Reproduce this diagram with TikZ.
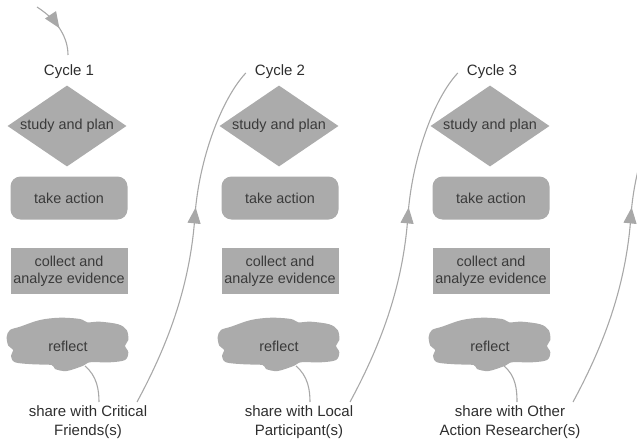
\documentclass[tikz,border=0pt]{standalone}
\usepackage{fontspec}
\setmainfont{Liberation Sans}
\usetikzlibrary{shapes.geometric,arrows.meta,decorations.markings,calc}
\definecolor{shapegray}{HTML}{ABABAB}
\definecolor{linegray}{HTML}{A8A8A8}
\definecolor{intext}{HTML}{3A3A3A}
\definecolor{labtext}{HTML}{2E2E2E}
\newcommand{\blobpath}{plot[smooth cycle, tension=0.55] coordinates {
 (-58,-16) (-48,-19.3) (-28,-26) (-8,-28.3) (12,-27) (19.3,-23.7) (32,-24.3) (50.3,-21.7)
 (58.7,-16) (60.3,-6) (57,-0.3) (60.3,6.3) (57,14) (42,16.3) (22,16.3) (15.3,19.7)
 (-1.3,25) (-13,23) (-16.3,19) (-34.7,18.3) (-53,16.3) (-57,9.7) (-54.7,4) (-59.7,-0.3) (-61.3,-9.3)}}
\begin{document}
\begin{tikzpicture}[x=1pt,y=-1pt,
  shapebase/.style={fill=shapegray, text=intext, font=\fontsize{14.4}{17}\selectfont, align=center, inner sep=0pt},
  plan/.style={shapebase, diamond, aspect=1.5, minimum width=119pt, minimum height=81pt},
  act/.style={shapebase, rectangle, rounded corners=10pt, minimum width=117pt, minimum height=43pt},
  collect/.style={shapebase, rectangle, minimum width=117pt, minimum height=46pt},
  refl/.style={shapebase, fill=none, rectangle, minimum width=120pt, minimum height=50pt},
  blob/.style={fill=shapegray},
  cyc/.style={text=labtext, font=\fontsize{15}{19}\selectfont, inner sep=0pt},
  share/.style={cyc, align=center},
  link/.style={color=linegray, line width=1.1pt},
  flow/.style={link, postaction={decorate}, decoration={markings, mark=at position #1 with {\arrow{Triangle[length=16pt,width=13pt]}}}},
]
\useasboundingbox (0,0) rectangle (637,444);
\clip (0,0) rectangle (637,444);

% cloud backgrounds
\fill[blob, shift={(68,346)}] \blobpath;
\fill[blob, shift={(279,346)}] \blobpath;
\fill[blob, shift={(490,346)}] \blobpath;

% column 1
\node[cyc] (c1) at (69,72) {Cycle 1};
\node[plan] (p1) at (67,126) {study and plan};
\node[act] (a1) at (69,198) {take action};
\node[collect] (e1) at (69,271) {collect and\\analyze evidence};
\node[refl] (r1) at (68,346) {reflect};
\node[share] (s1) at (88,422) {share with Critical\\Friends(s)};

% column 2
\node[cyc] (c2) at (280,72) {Cycle 2};
\node[plan] (p2) at (279,126) {study and plan};
\node[act] (a2) at (280,198) {take action};
\node[collect] (e2) at (280,271) {collect and\\analyze evidence};
\node[refl] (r2) at (279,346) {reflect};
\node[share] (s2) at (299,422) {share with Local\\Participant(s)};

% column 3
\node[cyc] (c3) at (492,72) {Cycle 3};
\node[plan] (p3) at (490,126) {study and plan};
\node[act] (a3) at (491,198) {take action};
\node[collect] (e3) at (491,271) {collect and\\analyze evidence};
\node[refl] (r3) at (490,346) {reflect};
\node[share] (s3) at (510,422) {share with Other\\Action Researcher(s)};

\coordinate (start) at (37,7);

% entry arrow
\draw[flow=0.52] (start) .. controls +(22,14) and +(0,-16) .. ($(c1.center)+(-1,-17)$);

% reflect -> share
\draw[link] ($(r1.center)+(17,20)$) .. controls +(12,10) and +(0,-12) .. ($(s1.center)+(11,-20)$);
\draw[link] ($(r2.center)+(17,20)$) .. controls +(12,10) and +(0,-12) .. ($(s2.center)+(11,-20)$);
\draw[link] ($(r3.center)+(14,20)$) .. controls +(12,10) and +(0,-12) .. ($(s3.center)+(7,-20)$);

% share -> next cycle
\coordinate (b1) at ($(s1.center)+(49,-20)$);
\coordinate (m1) at ($(b1)+(58,-187)$);
\coordinate (t1) at ($(c2.west)+(-9,1)$);
\coordinate (b2) at ($(s2.center)+(51,-20)$);
\coordinate (m2) at ($(b2)+(58,-187)$);
\coordinate (t2) at ($(c3.west)+(-9,1)$);
\coordinate (b3) at ($(s3.center)+(63,-20)$);
\coordinate (m3) at ($(b3)+(58,-187)$);
\coordinate (t3) at ($(m3)+(52,-142)$);

\draw[flow=205pt] (b1) .. controls ($(b1)+(28,-52)$) and ($(m1)+(-5,75)$) .. (m1)
  .. controls ($(m1)+(4,-55)$) and ($(t1)+(-25,27)$) .. (t1);
\draw[flow=205pt] (b2) .. controls ($(b2)+(28,-52)$) and ($(m2)+(-5,75)$) .. (m2)
  .. controls ($(m2)+(4,-55)$) and ($(t2)+(-25,27)$) .. (t2);
\draw[flow=205pt] (b3) .. controls ($(b3)+(28,-52)$) and ($(m3)+(-5,75)$) .. (m3)
  .. controls ($(m3)+(4,-55)$) and ($(t3)+(-25,27)$) .. (t3);
\end{tikzpicture}
\end{document}
